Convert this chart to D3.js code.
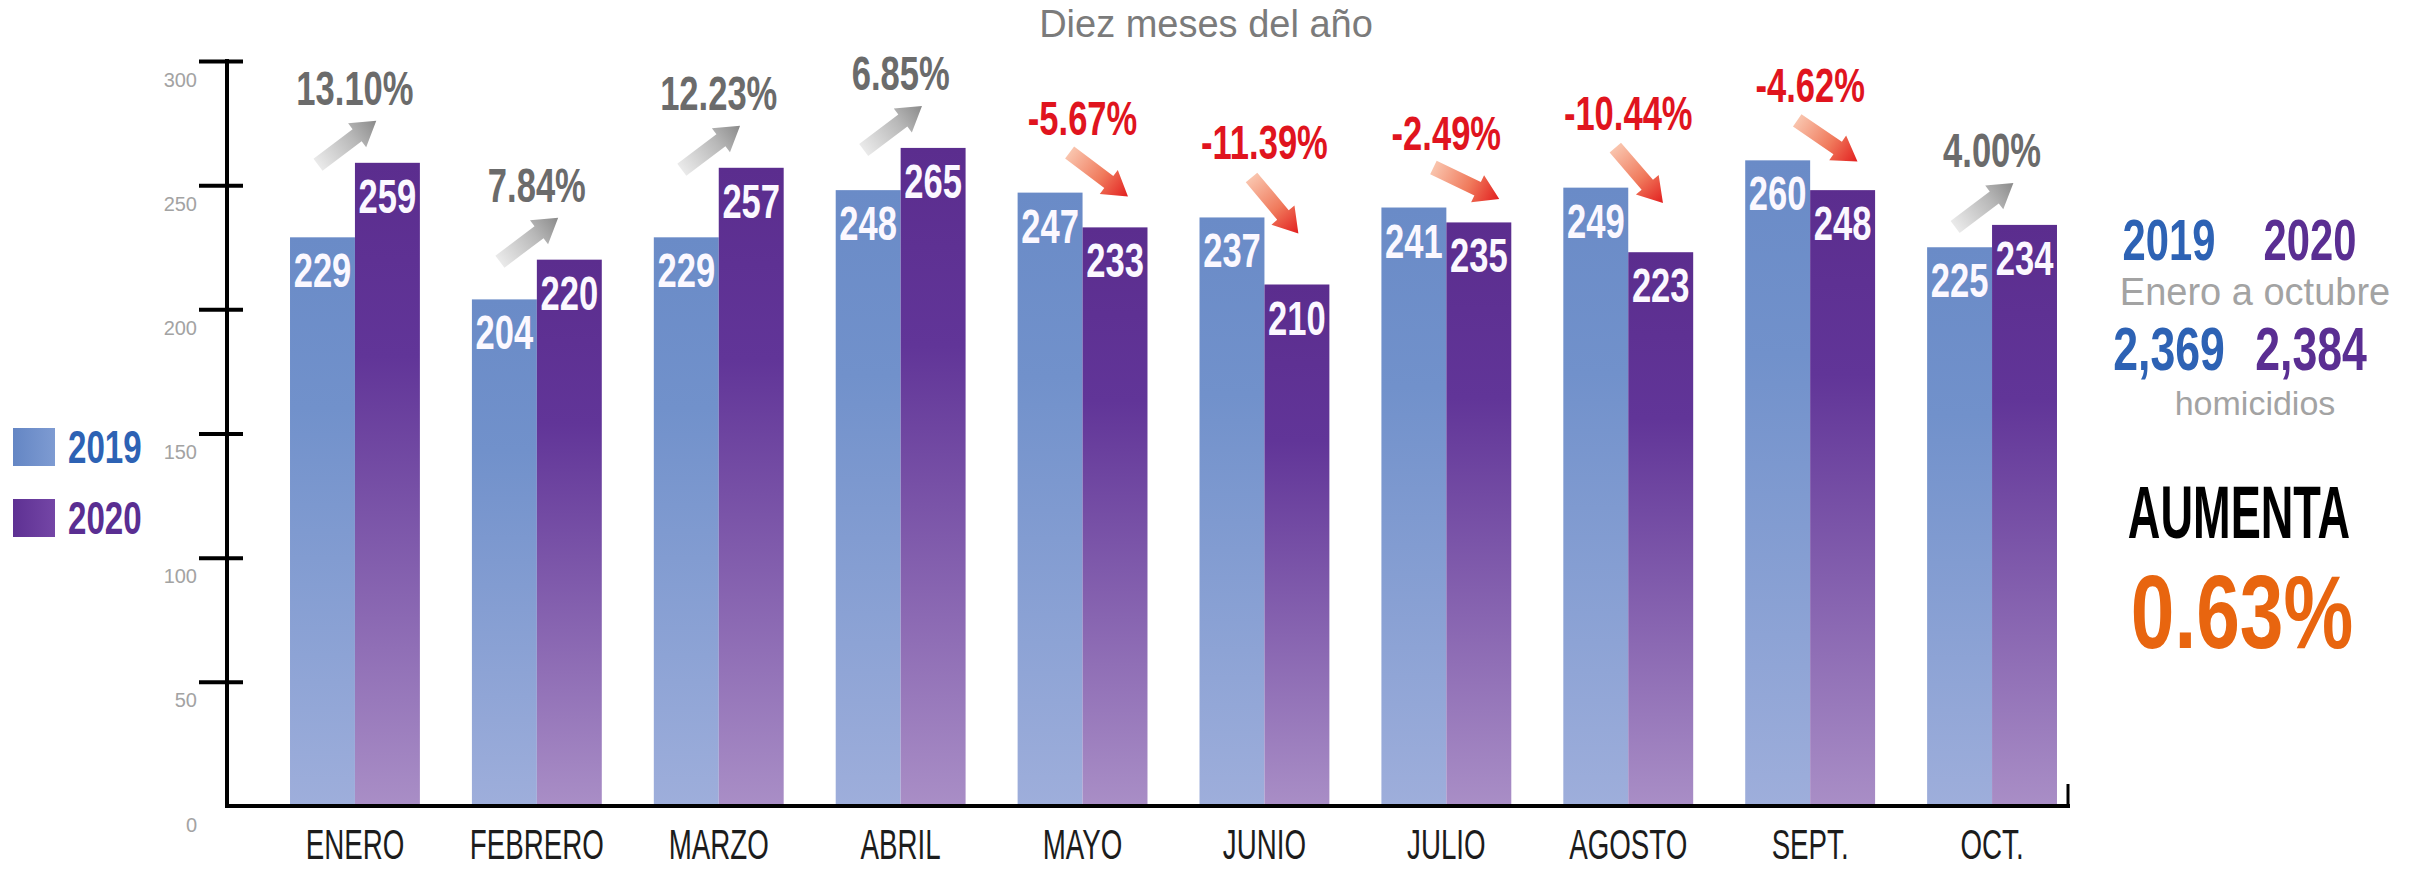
<!DOCTYPE html>
<html>
<head>
<meta charset="utf-8">
<script src="https://cdn.jsdelivr.net/npm/d3@7"></script>
<style>
  html, body { margin: 0; padding: 0; background: #ffffff; }
  svg { display: block; }
</style>
</head>
<body>
<svg id="chart" width="2420" height="869"></svg>
<script>
// ---- data ----
const months = ["ENERO", "FEBRERO", "MARZO", "ABRIL", "MAYO", "JUNIO", "JULIO", "AGOSTO", "SEPT.", "OCT."];
const values2019 = [229, 204, 229, 248, 247, 237, 241, 249, 260, 225];
const values2020 = [259, 220, 257, 265, 233, 210, 235, 223, 248, 234];
const seriesNames = ["2019", "2020"];
const yTicks = [0, 50, 100, 150, 200, 250, 300];
const title = "Diez meses del año";
const periodLabel = "Enero a octubre";
const unitLabel = "homicidios";
const trendLabel = "AUMENTA";

// ---- layout ----
const svg = d3.select("#chart");
const FONT = "'Liberation Sans', Arial, sans-serif";
const COND = 0.72;   // horizontal squeeze for condensed look (bold)
const CONDR = 0.66;  // horizontal squeeze (regular)

const axisX0 = 227, axisX1 = 2068;
const y = d3.scaleLinear().domain([0, 300]).range([806, 61]);
const x0 = d3.scaleBand().domain(months).range([264, 2083]).paddingInner(0.286).paddingOuter(0.143);
const x1 = d3.scaleBand().domain(seriesNames).range([0, x0.bandwidth()]);

const data = months.map((m, i) => ({ month: m, v19: values2019[i], v20: values2020[i] }));
const pctFmt = v => v.toFixed(2) + "%";
const totFmt = d3.format(",");

// ---- gradients ----
const defs = svg.append("defs");
function vGrad(id, stops) {
  const g = defs.append("linearGradient").attr("id", id)
    .attr("x1", 0).attr("y1", 0).attr("x2", 0).attr("y2", 1);
  stops.forEach(s => g.append("stop").attr("offset", s[0]).attr("stop-color", s[1]));
}
function hGrad(id, stops) {
  const g = defs.append("linearGradient").attr("id", id)
    .attr("x1", 0).attr("y1", 0).attr("x2", 1).attr("y2", 0);
  stops.forEach(s => g.append("stop").attr("offset", s[0]).attr("stop-color", s[1]));
}
vGrad("g2019", [[0, "#6a8bc7"], [0.3, "#7191cb"], [1, "#9eaedb"]]);
vGrad("g2020", [[0, "#5b2d8e"], [0.3, "#613598"], [1, "#a98ec6"]]);
hGrad("gUp", [[0, "#eaeaea"], [0.6, "#b8b8b8"], [1, "#8a8a8a"]]);
hGrad("gDown", [[0, "#f9c4ad"], [0.55, "#f07a5c"], [1, "#e21f1f"]]);
hGrad("leg2019", [[0, "#6486c4"], [1, "#7e9bd2"]]);
hGrad("leg2020", [[0, "#5e3193"], [1, "#7446a6"]]);

const fills = { "2019": "url(#g2019)", "2020": "url(#g2020)" };

// ---- title ----
svg.append("text")
  .attr("x", 1206).attr("y", 37)
  .attr("text-anchor", "middle")
  .attr("font-family", FONT).attr("font-size", 38)
  .attr("fill", "#7b7b7b")
  .text(title);

// ---- bars ----
const groups = svg.append("g").selectAll("g")
  .data(data).join("g")
  .attr("transform", d => `translate(${x0(d.month)},0)`);

groups.selectAll("rect")
  .data(d => [{ s: "2019", v: d.v19 }, { s: "2020", v: d.v20 }])
  .join("rect")
  .attr("x", d => x1(d.s))
  .attr("y", d => y(d.v))
  .attr("width", x1.bandwidth())
  .attr("height", d => y(0) - y(d.v))
  .attr("fill", d => fills[d.s]);

// value labels inside bars
groups.selectAll("text.val")
  .data(d => [{ s: "2019", v: d.v19 }, { s: "2020", v: d.v20 }])
  .join("text")
  .attr("class", "val")
  .attr("transform", d => `translate(${x1(d.s) + x1.bandwidth() / 2},${y(d.v) + 50}) scale(${COND},1)`)
  .attr("text-anchor", "middle")
  .attr("font-family", FONT).attr("font-weight", "bold").attr("font-size", 48)
  .attr("fill", "#fbf8ff")
  .text(d => d.v);

// ---- arrows and percentage labels ----
const arrowLen = 73, headLen = 24, headHalf = 15, bodyHalf = 7.5;
const arrowPath = `M0,${-bodyHalf} L${arrowLen - headLen},${-bodyHalf} L${arrowLen - headLen},${-headHalf} L${arrowLen},0 L${arrowLen - headLen},${headHalf} L${arrowLen - headLen},${bodyHalf} L0,${bodyHalf} Z`;

groups.each(function (d) {
  const g = d3.select(this);
  const up = d.v20 >= d.v19;
  const pct = (d.v20 - d.v19) / d.v19 * 100;
  const bw = x1.bandwidth();
  let tx, ty, ang;
  if (up) {
    tx = 28; ty = y(d.v20) + 2;
    ang = Math.atan2(-43, 57) * 180 / Math.PI;
  } else {
    tx = 52; ty = y(d.v19) - 40;
    const hx = x1("2020") + bw - 5, hy = y(d.v20) - 20;
    ang = Math.atan2(hy - ty, hx - tx) * 180 / Math.PI;
  }
  g.append("path")
    .attr("d", arrowPath)
    .attr("transform", `translate(${tx},${ty}) rotate(${ang})`)
    .attr("fill", up ? "url(#gUp)" : "url(#gDown)");

  g.append("text")
    .attr("transform", `translate(${x0.bandwidth() / 2},${y(Math.max(d.v19, d.v20)) - 58}) scale(${COND},1)`)
    .attr("text-anchor", "middle")
    .attr("font-family", FONT).attr("font-weight", "bold").attr("font-size", 48)
    .attr("fill", up ? "#6b6b6b" : "#e0141e")
    .text(pctFmt(pct));
});

// ---- month labels ----
svg.append("g").selectAll("text")
  .data(months).join("text")
  .attr("transform", m => `translate(${x0(m) + x0.bandwidth() / 2},859) scale(${CONDR},1)`)
  .attr("text-anchor", "middle")
  .attr("font-family", FONT).attr("font-size", 42)
  .attr("fill", "#1c1c1c")
  .text(m => m);

// ---- y axis ----
const yAxis = svg.append("g").attr("transform", `translate(${axisX0},0)`)
  .call(d3.axisLeft(y).tickValues(yTicks).tickSize(0).tickPadding(0));
yAxis.select(".domain").remove();
yAxis.selectAll(".tick line").remove();
yAxis.selectAll(".tick").each(function (t) {
  const tk = d3.select(this);
  if (t !== 0) {
    tk.append("line").attr("x1", -28).attr("x2", 16).attr("y1", 0).attr("y2", 0)
      .attr("stroke", "#000").attr("stroke-width", 4);
  }
  tk.select("text")
    .attr("x", -30).attr("dy", 25)
    .attr("text-anchor", "end")
    .attr("font-family", FONT).attr("font-size", 20)
    .attr("fill", "#a3a3a3");
});
yAxis.append("line")
  .attr("x1", 0).attr("x2", 0).attr("y1", y(300) - 2).attr("y2", y(0) + 2)
  .attr("stroke", "#000").attr("stroke-width", 4);

// ---- x axis line ----
svg.append("line")
  .attr("x1", axisX0 - 2).attr("x2", axisX1 + 2).attr("y1", y(0)).attr("y2", y(0))
  .attr("stroke", "#000").attr("stroke-width", 4);
svg.append("line")
  .attr("x1", axisX1).attr("x2", axisX1).attr("y1", y(0)).attr("y2", y(0) - 22)
  .attr("stroke", "#000").attr("stroke-width", 3);

// ---- legend ----
const legend = svg.append("g");
const legColors = { "2019": "#2d62b4", "2020": "#5a2e92" };
seriesNames.forEach((s, i) => {
  const ly = 428 + i * 71;
  legend.append("rect").attr("x", 13).attr("y", ly).attr("width", 42).attr("height", 38)
    .attr("fill", i === 0 ? "url(#leg2019)" : "url(#leg2020)");
  legend.append("text")
    .attr("transform", `translate(68,${ly + 35}) scale(${COND},1)`)
    .attr("font-family", FONT).attr("font-weight", "bold").attr("font-size", 46)
    .attr("fill", legColors[s])
    .text(s);
});

// ---- right summary panel ----
const total19 = d3.sum(values2019), total20 = d3.sum(values2020);
const totalPct = (total20 - total19) / total19 * 100;
const rp = svg.append("g");
function condText(x, yy, size, color, txt, sx, weight) {
  rp.append("text")
    .attr("transform", `translate(${x},${yy}) scale(${sx},1)`)
    .attr("text-anchor", "middle")
    .attr("font-family", FONT).attr("font-weight", weight || "bold").attr("font-size", size)
    .attr("fill", color)
    .text(txt);
}
condText(2169, 260, 58, legColors["2019"], seriesNames[0], COND);
condText(2310, 260, 58, legColors["2020"], seriesNames[1], COND);
rp.append("text").attr("x", 2255).attr("y", 305).attr("text-anchor", "middle")
  .attr("font-family", FONT).attr("font-size", 38).attr("fill", "#a3a3a3").text(periodLabel);
condText(2169, 370, 62, legColors["2019"], totFmt(total19), COND);
condText(2311, 370, 62, legColors["2020"], totFmt(total20), COND);
rp.append("text").attr("x", 2255).attr("y", 415).attr("text-anchor", "middle")
  .attr("font-family", FONT).attr("font-size", 34).attr("fill", "#a3a3a3").text(unitLabel);
condText(2239, 538, 74, "#000000", trendLabel, 0.61, 900);
condText(2242, 648, 104, "#e8650f", totalPct.toFixed(2) + "%", 0.754);
</script>
</body>
</html>
